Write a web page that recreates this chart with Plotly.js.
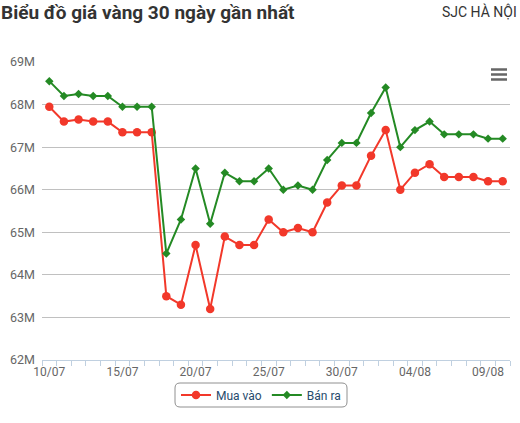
<!DOCTYPE html>
<html>
<head>
<meta charset="utf-8">
<script src="https://cdn.plot.ly/plotly-3.0.1.min.js"></script>
<style>
html,body{margin:0;padding:0;background:#fff;}
#chart{width:520px;height:423px;}
</style>
</head>
<body>
<div id="chart"></div>
<script>
const dates = ["10/07","11/07","12/07","13/07","14/07","15/07","16/07","17/07","18/07","19/07","20/07","21/07","22/07","23/07","24/07","25/07","26/07","27/07","28/07","29/07","30/07","31/07","01/08","02/08","03/08","04/08","05/08","06/08","07/08","08/08","09/08","10/08"];
const buyValues = [67950000,67600000,67650000,67600000,67600000,67350000,67350000,67350000,63500000,63300000,64700000,63200000,64900000,64700000,64700000,65300000,65000000,65100000,65000000,65700000,66100000,66100000,66800000,67400000,66000000,66400000,66600000,66300000,66300000,66300000,66200000,66200000];
const sellValues = [68550000,68200000,68250000,68200000,68200000,67950000,67950000,67950000,64500000,65300000,66500000,65200000,66400000,66200000,66200000,66500000,66000000,66100000,66000000,66700000,67100000,67100000,67800000,68400000,67000000,67400000,67600000,67300000,67300000,67300000,67200000,67200000];
const seriesNames = ["Mua vào","Bán ra"];
const labelStep = 5;

const idx = dates.map((d,i)=>i);
const majorVals = idx.filter(i => i % labelStep === 0);
const majorText = majorVals.map(i => dates[i]);
const boundaryVals = [];
for (let i = 0; i <= dates.length; i++) boundaryVals.push(i - 0.5);

const traces = [
  {
    x: idx, y: buyValues, name: seriesNames[0], type: 'scatter', mode: 'lines+markers',
    line: {color: '#f2382a', width: 2},
    marker: {symbol: 'circle', size: 8.5, color: '#f2382a'},
    text: dates, hovertemplate: '%{text}: %{y}<extra></extra>'
  },
  {
    x: idx, y: sellValues, name: seriesNames[1], type: 'scatter', mode: 'lines+markers',
    line: {color: '#248a24', width: 2},
    marker: {symbol: 'diamond', size: 6.5, color: '#248a24'},
    text: dates, hovertemplate: '%{text}: %{y}<extra></extra>'
  }
];

function px2x(p){ return (p - 42) / 468; }
function px2y(p){ return 1 - (p - 62) / 298; }
function roundRect(x0,y0,x1,y1,r){
  const rx = r/468, ry = r/298;
  const X0=px2x(x0), X1=px2x(x1), Y0=px2y(y0), Y1=px2y(y1);
  return `M ${X0+rx},${Y0} L ${X1-rx},${Y0} Q ${X1},${Y0} ${X1},${Y0-ry} L ${X1},${Y1+ry} Q ${X1},${Y1} ${X1-rx},${Y1} L ${X0+rx},${Y1} Q ${X0},${Y1} ${X0},${Y1+ry} L ${X0},${Y0-ry} Q ${X0},${Y0} ${X0+rx},${Y0} Z`;
}

const menuLines = [69.5, 74.5, 79.5].map(py => ({
  type: 'line', xref: 'paper', yref: 'paper',
  x0: px2x(491), x1: px2x(507), y0: px2y(py), y1: px2y(py),
  line: {color: '#666666', width: 2.5}
}));

const layout = {
  width: 520, height: 423,
  margin: {l: 42, r: 10, t: 62, b: 63},
  paper_bgcolor: '#ffffff', plot_bgcolor: '#ffffff',
  font: {family: 'Roboto, sans-serif', color: '#666666', size: 12},
  title: {
    text: '<b>Biểu đồ giá vàng 30 ngày gần nhất</b>',
    font: {family: 'Roboto, sans-serif', size: 19, color: '#333333'},
    xref: 'container', yref: 'container', x: 0.002, xanchor: 'left', y: 1 - 12/423, yanchor: 'middle'
  },
  xaxis: {
    type: 'linear', range: [-0.5, dates.length - 0.5],
    tickmode: 'array', tickvals: majorVals, ticktext: majorText,
    ticks: '', showgrid: false, zeroline: false,
    showline: true, linecolor: '#c0d0e0', linewidth: 1,
    tickfont: {size: 12, color: '#666666'},
    ticklabelstandoff: 1,
    minor: {tickmode: 'array', tickvals: boundaryVals, ticks: 'outside', ticklen: 5, tickcolor: '#c0d0e0', tickwidth: 1, showgrid: false},
    fixedrange: true
  },
  yaxis: {
    range: [62000000, 69000000], dtick: 1000000, tickformat: '~s',
    showgrid: true, gridcolor: '#c0c0c0', gridwidth: 1,
    zeroline: false, showline: false, ticks: '',
    tickfont: {size: 12.5, color: '#666666'},
    ticklabelstandoff: 6,
    fixedrange: true
  },
  showlegend: true,
  legend: {
    orientation: 'h', x: px2x(261), xanchor: 'center', y: px2y(395), yanchor: 'middle',
    font: {size: 12, color: '#274b6d'},
    bgcolor: 'rgba(0,0,0,0)', borderwidth: 0
  },
  shapes: [
    {type: 'path', xref: 'paper', yref: 'paper', path: roundRect(175, 383, 347, 407, 5),
     line: {color: '#909090', width: 1}, fillcolor: 'rgba(0,0,0,0)', layer: 'below'}
  ].concat(menuLines),
  annotations: [
    {text: 'SJC HÀ NỘI', xref: 'paper', yref: 'paper', x: px2x(519), y: px2y(11.5),
     xanchor: 'right', yanchor: 'middle', showarrow: false,
     font: {family: 'Roboto, sans-serif', size: 14, color: '#333333'}}
  ]
};

Plotly.newPlot('chart', traces, layout, {displayModeBar: false, responsive: false});
</script>
</body>
</html>
